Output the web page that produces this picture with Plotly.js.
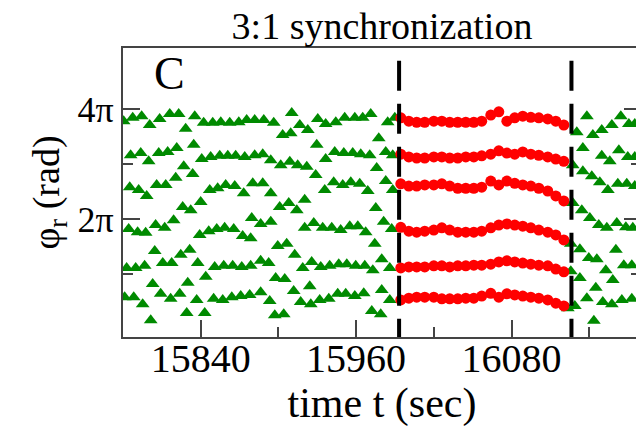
<!DOCTYPE html>
<html><head><meta charset="utf-8">
<script src="https://cdn.plot.ly/plotly-3.0.1.min.js"></script>
<style>html,body{margin:0;padding:0;overflow:hidden;background:#fff}#chart{width:641px;height:427px}</style>
</head><body><div id="chart"></div><script>
// ---- data: time t (sec) and relative phase phi_r (in units of pi) ----
const greenBeforeT = [
  15780.5, 15787.5, 15794.4, 15800.6, 15808.3, 15816.1, 15823.0, 15828.4, 15835.4, 15842.3, 15849.3, 15855.5, 15862.4, 15869.4, 15875.5, 15881.7,
  15785.9, 15793.7, 15799.8, 15807.6, 15814.5, 15821.5, 15834.6, 15826.9, 15833.8, 15840.8, 15847.7, 15854.7, 15860.9, 15867.0, 15874.0, 15881.7,
  15785.2, 15792.1, 15798.3, 15806.0, 15813.0, 15820.7, 15826.1, 15832.3, 15840.0, 15847.0, 15853.1, 15859.3, 15866.3, 15873.2, 15880.2,
  15784.4, 15791.3, 15797.5, 15805.2, 15812.2, 15819.1, 15839.2, 15846.2, 15852.4, 15858.5, 15865.5, 15872.4, 15878.6, 15879.4,
  15782.8, 15789.8, 15796.7, 15804.5, 15810.7, 15817.6, 15824.6, 15831.5, 15837.7, 15843.9, 15850.8, 15857.8, 15864.7, 15871.7, 15878.6,
  15781.3, 15788.3, 15795.2, 15801.4, 15802.9, 15809.1, 15816.8, 15823.8, 15829.2, 15830.0, 15836.9, 15843.1, 15850.0, 15857.0, 15864.0, 15870.9, 15877.8,
  15888.7, 15896.4, 15903.3, 15909.5, 15910.3, 15916.5, 15922.7, 15930.4, 15936.5, 15944.3, 15951.2, 15959.0, 15965.1, 15971.3, 15977.5, 15984.4, 15989.9,
  15887.9, 15894.1, 15901.8, 15908.8, 15914.9, 15921.9, 15928.8, 15929.6, 15936.5, 15943.5, 15950.5, 15957.4, 15963.6, 15970.5, 15975.9, 15982.9, 15988.3,
  15887.9, 15894.1, 15901.0, 15908.0, 15914.2, 15920.3, 15935.8, 15942.7, 15949.7, 15955.9, 15962.8, 15969.0, 15975.2, 15982.9, 15988.3,
  15886.3, 15894.1, 15920.3, 15927.3, 15934.2, 15941.2, 15948.1, 15955.1, 15961.3, 15967.4, 15974.4, 15981.3, 15987.5,
  15886.3, 15892.5, 15899.5, 15906.4, 15912.6, 15918.8, 15925.7, 15932.7, 15939.6, 15946.6, 15952.8, 15959.7, 15966.7, 15972.9, 15979.8, 15986.0,
  15886.3, 15893.3, 15897.2, 15897.9, 15904.1, 15904.9, 15911.8, 15917.2, 15924.2, 15925.0, 15931.9, 15938.9, 15945.8, 15952.0, 15959.0, 15965.9, 15972.1, 15979.0, 15979.8, 15986.0
];
const greenBeforePhi = [
  3.78, 3.84, 3.87, 3.71, 3.82, 3.91, 3.91, 3.64, 3.87, 3.75, 3.75, 3.76, 3.75, 3.76, 3.80, 3.80,
  3.16, 3.20, 3.05, 3.20, 3.22, 3.29, 3.35, 2.96, 2.82, 3.09, 3.13, 3.15, 3.15, 3.15, 3.13, 3.16,
  2.58, 2.53, 2.42, 2.62, 2.62, 2.75, 2.22, 2.16, 2.31, 2.53, 2.56, 2.62, 2.60, 2.47, 2.65,
  1.82, 1.76, 1.75, 1.89, 1.84, 1.98, 1.71, 1.78, 1.82, 1.84, 1.82, 1.69, 1.65, 2.02,
  1.11, 1.11, 1.15, 1.42, 1.20, 1.20, 1.35, 1.44, 1.20, 0.95, 1.13, 1.15, 1.15, 1.13, 1.15,
  0.58, 0.58, 0.45, 0.16, 0.82, 0.64, 0.55, 0.64, 0.29, 0.84, 0.53, 0.29, 0.55, 0.53, 0.58, 0.60, 0.62,
  3.80, 3.75, 3.53, 3.56, 3.93, 3.71, 3.62, 3.82, 3.73, 3.76, 3.84, 3.84, 3.84, 3.91, 3.47, 3.76, 3.84,
  3.18, 3.07, 2.98, 3.04, 2.98, 2.95, 2.80, 3.35, 3.09, 3.22, 3.20, 3.20, 3.18, 3.16, 2.93, 3.22, 3.16,
  2.65, 2.47, 2.22, 2.29, 2.16, 2.35, 2.53, 2.67, 2.62, 2.67, 2.64, 2.51, 2.20, 2.69, 2.53,
  1.91, 1.95, 1.84, 1.93, 1.84, 1.84, 1.80, 1.87, 1.87, 1.76, 1.55, 1.95, 1.82,
  1.24, 1.20, 1.51, 1.55, 1.35, 1.11, 1.22, 1.13, 1.15, 1.18, 1.18, 1.15, 1.15, 1.07, 1.27, 1.11,
  0.67, 0.51, 0.25, 0.93, 0.27, 0.91, 0.69, 0.49, 0.78, 0.45, 0.53, 0.55, 0.64, 0.64, 0.60, 0.65, 0.33, 0.27, 0.71, 0.53
];
const greenAfterT = [
  16130.4, 16138.2, 16142.8, 16149.7, 16157.5, 16164.4, 16170.6, 16175.2,
  16135.1, 16149.7, 16155.9, 16162.9, 16169.8, 16175.2,
  16127.3, 16135.1, 16142.0, 16148.2, 16154.4, 16162.1, 16169.0, 16175.2,
  16127.3, 16134.3, 16140.5, 16147.4, 16153.6, 16161.3, 16168.3, 16173.7,
  16125.8, 16132.8, 16139.7, 16145.9, 16152.8, 16160.6, 16166.7, 16172.9,
  16125.8, 16132.8, 16145.1, 16158.2,
  16123.5, 16128.9, 16138.2, 16143.6, 16150.5, 16157.5, 16165.2, 16172.9
];
const greenAfterPhi = [
  3.58, 3.87, 3.53, 3.62, 3.71, 3.87, 3.73, 3.73,
  3.29, 3.15, 3.05, 3.25, 3.13, 3.13,
  2.98, 2.87, 2.78, 2.67, 2.53, 2.64, 2.64, 2.60,
  2.29, 2.16, 2.02, 1.89, 1.84, 1.93, 1.85, 1.84,
  1.55, 1.45, 1.29, 1.27, 1.07, 1.44, 1.16, 1.16,
  1.05, 0.93, 0.75, 0.89,
  0.38, 0.42, 0.56, 0.15, 0.49, 0.45, 0.53, 0.55
];
// synchronized epoch (red), one array of phases per band
const syncT = [15994.5, 16000.7, 16006.8, 16013.0, 16020.0, 16026.2, 16032.3, 16038.5, 16044.7, 16050.9, 16057.0,
               16064.0, 16070.2, 16076.4, 16082.5, 16088.7, 16094.9, 16101.1, 16108.0, 16114.2, 16120.4];
const syncBand1 = [3.84, 3.78, 3.76, 3.76, 3.78, 3.78, 3.76, 3.76, 3.76, 3.76, 3.78, 3.89, 3.95, 3.78, 3.84, 3.87, 3.85, 3.84, 3.82, 3.78, 3.71];
const syncBand2 = [3.18, 3.13, 3.11, 3.11, 3.13, 3.13, 3.11, 3.11, 3.13, 3.13, 3.15, 3.18, 3.24, 3.20, 3.18, 3.22, 3.18, 3.16, 3.13, 3.09, 3.05];
const syncBand3 = [2.64, 2.60, 2.60, 2.62, 2.62, 2.64, 2.60, 2.56, 2.56, 2.56, 2.58, 2.69, 2.62, 2.69, 2.65, 2.62, 2.60, 2.56, 2.51, 2.42, 2.33];
const syncBand4 = [1.85, 1.78, 1.76, 1.78, 1.80, 1.84, 1.80, 1.76, 1.76, 1.76, 1.78, 1.84, 1.89, 1.91, 1.89, 1.87, 1.84, 1.80, 1.76, 1.71, 1.62];
const syncBand5 = [1.11, 1.13, 1.13, 1.13, 1.15, 1.15, 1.13, 1.15, 1.15, 1.16, 1.16, 1.18, 1.22, 1.24, 1.22, 1.20, 1.18, 1.16, 1.15, 1.09, 1.04];
const syncBand6 = [0.53, 0.56, 0.58, 0.58, 0.58, 0.55, 0.55, 0.55, 0.56, 0.56, 0.60, 0.65, 0.58, 0.64, 0.62, 0.60, 0.58, 0.56, 0.53, 0.47, 0.42];
const syncBounds = [15993.2, 16126.3];
const xTickVals = [15840, 15960, 16080];
const xTickText = ['15840', '15960', '16080'];
const xMinorVals = [15900, 16020, 16140];
const yTickVals = [2, 4];
const yTickText = ['2π', '4π'];
const yMinorVals = [1, 3];
const xRange = [15780, 16180];
const yRange = [-0.145, 5.11];

const FONT = 'Liberation Serif, Times New Roman, serif';
const GREEN = '#008a00';
const RED = '#ff0000';
const AX = '#444444';

const tri = {type: 'scatter', mode: 'markers', hoverinfo: 'skip',
  marker: {symbol: 'triangle-up', size: 12, color: GREEN, line: {width: 0}}};
const traces = [
  Object.assign({}, tri, {x: greenBeforeT, y: greenBeforePhi}),
  Object.assign({}, tri, {x: greenAfterT, y: greenAfterPhi})
];
[syncBand1, syncBand2, syncBand3, syncBand4, syncBand5, syncBand6].forEach(b => {
  traces.push({type: 'scatter', mode: 'markers', x: syncT, y: b, hoverinfo: 'skip',
    marker: {symbol: 'circle', size: 11, color: RED, line: {width: 0}}});
});

const shapes = syncBounds.map(t => ({type: 'line', xref: 'x', yref: 'y',
  x0: t, x1: t, y0: 4.878, y1: yRange[0], line: {color: '#000', width: 4, dash: '30px,13px'}}));

const layout = {
  width: 641, height: 427,
  margin: {l: 123, r: 0, t: 48, b: 90},
  paper_bgcolor: '#fff', plot_bgcolor: '#fff',
  showlegend: false,
  font: {family: FONT, color: '#000'},
  title: {text: '3:1 synchronization', font: {family: FONT, size: 38, color: '#000'},
    xref: 'paper', x: 0.5, xanchor: 'center', yref: 'container', y: 1 - 26 / 427, yanchor: 'middle'},
  xaxis: {range: xRange, tickmode: 'array', tickvals: xTickVals, ticktext: xTickText,
    ticks: 'inside', ticklen: 17, tickwidth: 2, tickcolor: AX, ticklabelstandoff: -15,
    showline: true, linecolor: AX, linewidth: 2, mirror: true, showgrid: false, zeroline: false,
    tickfont: {family: FONT, size: 40, color: '#000'},
    minor: {tickmode: 'array', tickvals: xMinorVals, ticks: 'inside', ticklen: 10, tickwidth: 2, tickcolor: AX, showgrid: false},
    title: {text: 'time t (sec)', font: {family: FONT, size: 42, color: '#000'}, standoff: 0}},
  yaxis: {range: yRange, tickmode: 'array', tickvals: yTickVals, ticktext: yTickText,
    ticks: 'inside', ticklen: 17, tickwidth: 2, tickcolor: AX,
    showline: true, linecolor: AX, linewidth: 2, mirror: 'ticks', showgrid: false, zeroline: false,
    tickfont: {family: FONT, size: 36, color: '#000'},
    minor: {tickmode: 'array', tickvals: yMinorVals, ticks: 'inside', ticklen: 10, tickwidth: 2, tickcolor: AX, showgrid: false},
    title: {text: 'φ<sub>r</sub> (rad)', font: {family: FONT, size: 38, color: '#000'}, standoff: 6}},
  shapes: shapes,
  annotations: [{text: 'C', xref: 'paper', yref: 'paper', x: (169 - 123) / 518, y: (337 - 73) / 289,
    xanchor: 'center', yanchor: 'middle', showarrow: false, font: {family: FONT, size: 46, color: '#000'}}]
};
Plotly.newPlot('chart', traces, layout, {displayModeBar: false, staticPlot: true});
</script></body></html>
